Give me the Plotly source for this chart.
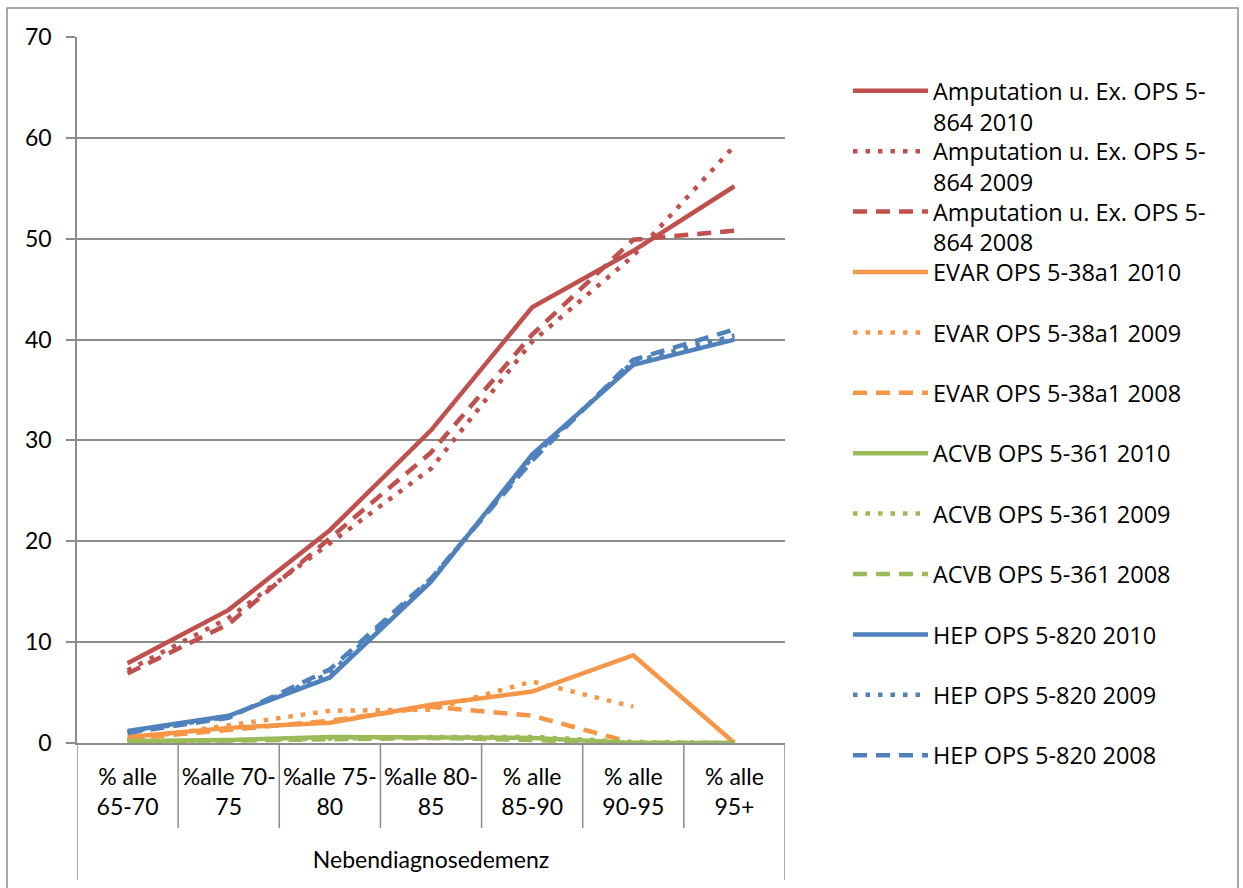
import plotly.graph_objects as go

# Age groups (category axis)
categories = ["% alle<br>65-70", "%alle 70-<br>75", "%alle 75-<br>80", "%alle 80-<br>85",
              "% alle<br>85-90", "% alle<br>90-95", "% alle<br>95+"]

# Share with secondary diagnosis dementia, per procedure and year
amp_2010 = [7.9, 13.2, 21.1, 31.0, 43.2, 48.8, 55.2]
amp_2009 = [7.2, 12.4, 19.8, 27.2, 39.8, 48.3, 59.2]
amp_2008 = [6.9, 11.8, 20.3, 28.8, 40.5, 49.9, 50.8]

evar_2010 = [0.6, 1.5, 2.0, 3.8, 5.1, 8.7, 0.0]
evar_2009 = [0.3, 1.7, 3.2, 3.3, 6.1, 3.6, None]
evar_2008 = [0.4, 1.3, 2.2, 3.6, 2.7, 0.0, 0.0]

acvb_2010 = [0.2, 0.3, 0.6, 0.6, 0.5, 0.0, 0.0]
acvb_2009 = [0.1, 0.3, 0.5, 0.6, 0.6, 0.1, 0.0]
acvb_2008 = [0.1, 0.2, 0.4, 0.5, 0.3, 0.0, 0.0]

hep_2010 = [1.2, 2.7, 6.5, 16.0, 28.6, 37.5, 40.0]
hep_2009 = [1.1, 2.6, 6.9, 16.2, 28.3, 37.8, 40.4]
hep_2008 = [1.0, 2.5, 7.3, 16.3, 28.0, 38.0, 41.0]

y_ticks = [0, 10, 20, 30, 40, 50, 60, 70]
x_title = "Nebendiagnosedemenz"

RED, ORANGE, GREEN, BLUE = "#C0504D", "#F79646", "#9BBB59", "#4F81BD"
GRID = "#8C8C8C"
FONT = "Lato"
LEGEND_FONT = "Open Sans"
LW = 4.5
DOT = "4.5px,8px"
DASH = "14px,9px"

series = [
    ("Amputation u. Ex. OPS 5-<br>864 2010", amp_2010, RED, "solid"),
    ("Amputation u. Ex. OPS 5-<br>864 2009", amp_2009, RED, DOT),
    ("Amputation u. Ex. OPS 5-<br>864 2008", amp_2008, RED, DASH),
    ("EVAR OPS 5-38a1 2010", evar_2010, ORANGE, "solid"),
    ("EVAR OPS 5-38a1 2009", evar_2009, ORANGE, DOT),
    ("EVAR OPS 5-38a1 2008", evar_2008, ORANGE, DASH),
    ("ACVB OPS 5-361 2010", acvb_2010, GREEN, "solid"),
    ("ACVB OPS 5-361 2009", acvb_2009, GREEN, DOT),
    ("ACVB OPS 5-361 2008", acvb_2008, GREEN, DASH),
    ("HEP OPS 5-820 2010", hep_2010, BLUE, "solid"),
    ("HEP OPS 5-820 2009", hep_2009, BLUE, DOT),
    ("HEP OPS 5-820 2008", hep_2008, BLUE, DASH),
]

W, H = 1243, 888
L, R, T, B = 77, 458, 37, 145
pw, ph = W - L - R, H - T - B


def px_x(p):
    return (p - L) / pw


def px_y(p):
    return (H - B - p) / ph


# one legend box per series so the key rows keep an even pitch
LEGEND_TOP = 91
LEGEND_PITCH = 60.4
legend_ids = ["legend"] + [f"legend{i}" for i in range(2, len(series) + 1)]

fig = go.Figure()
for (name, vals, color, dash), lid in zip(series, legend_ids):
    fig.add_trace(go.Scatter(
        x=categories, y=vals, name=name, mode="lines",
        line=dict(color=color, width=LW, dash=dash),
        connectgaps=False, legend=lid, showlegend=True,
    ))

legends = {}
for i, lid in enumerate(legend_ids):
    legends[lid] = dict(
        x=px_x(848), xanchor="left",
        y=px_y(LEGEND_TOP + i * LEGEND_PITCH - 22), yanchor="top",
        font=dict(family=LEGEND_FONT, size=23.5, color="#000000"),
        valign="top", itemwidth=75,
        bgcolor="rgba(0,0,0,0)", borderwidth=0,
    )

shapes = []
# outer chart frame
shapes.append(dict(type="rect", xref="paper", yref="paper",
                   x0=px_x(7), x1=px_x(1238), y0=px_y(892), y1=px_y(8),
                   line=dict(color=GRID, width=1.5), layer="below"))
# category dividers of the axis label area
for i in range(len(categories) - 1):
    shapes.append(dict(type="line", xref="x", yref="paper",
                       x0=i + 0.5, x1=i + 0.5, y0=0, y1=px_y(828),
                       line=dict(color=GRID, width=1.5)))
# outer verticals of the axis label area
for xv in (-0.5, len(categories) - 0.5):
    shapes.append(dict(type="line", xref="x", yref="paper",
                       x0=xv, x1=xv, y0=0, y1=px_y(880),
                       line=dict(color=GRID, width=1.5)))

fig.update_layout(
    width=W, height=H,
    margin=dict(l=L, r=R, t=T, b=B),
    paper_bgcolor="white", plot_bgcolor="white",
    font=dict(family=FONT, size=23, color="#000000"),
    showlegend=True,
    shapes=shapes,
    xaxis=dict(
        type="category", range=[-0.5, len(categories) - 0.5],
        showline=True, linecolor=GRID, linewidth=1.5,
        ticks="", showgrid=False, zeroline=False,
        tickfont=dict(family=FONT, size=23),
        ticklabelstandoff=13,
        title=dict(text=x_title, font=dict(family=FONT, size=23), standoff=33),
    ),
    yaxis=dict(
        range=[0, 70], tickvals=y_ticks,
        showline=True, linecolor=GRID, linewidth=1.5,
        ticks="outside", ticklen=9, tickcolor=GRID, tickwidth=1.5,
        ticklabelstandoff=10,
        showgrid=True, gridcolor=GRID, gridwidth=1.5, zeroline=False,
        tickfont=dict(family=FONT, size=23),
    ),
    **legends,
)

fig.write_html("out.html")
